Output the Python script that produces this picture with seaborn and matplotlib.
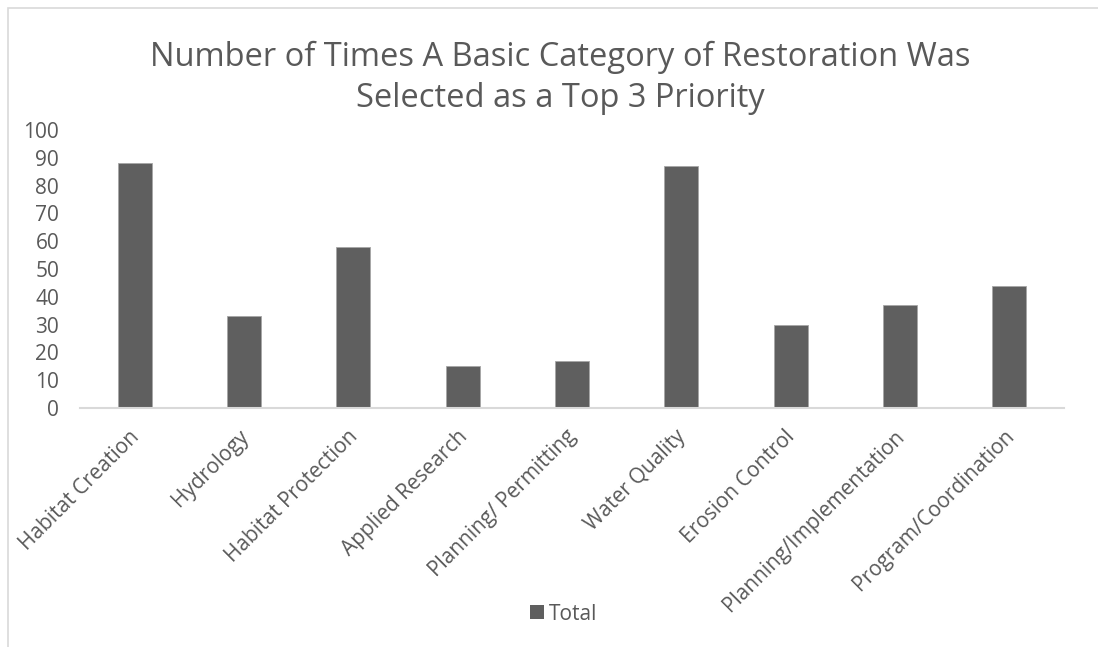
import matplotlib
matplotlib.use("Agg")
import matplotlib.pyplot as plt
import matplotlib.transforms as mtransforms
import seaborn as sns
import pandas as pd
from matplotlib.patches import Rectangle, Patch

categories = [
    "Habitat Creation",
    "Hydrology",
    "Habitat Protection",
    "Applied Research",
    "Planning/ Permitting",
    "Water Quality",
    "Erosion Control",
    "Planning/Implementation",
    "Program/Coordination",
]
totals = [88, 33, 58, 15, 17, 87, 30, 37, 44]
y_ticks = [0, 10, 20, 30, 40, 50, 60, 70, 80, 90, 100]

title = "Number of Times A Basic Category of Restoration Was\nSelected as a Top 3 Priority"
series_name = "Total"

sns.set_theme(style="white")
plt.rcParams["font.family"] = ["Open Sans", "DejaVu Sans"]

text_gray = "#595959"
bar_gray = "#5f5f5f"
small = 15

df = pd.DataFrame({"category": categories, "total": totals})

W, H = 1098, 647
fig = plt.figure(figsize=(W / 100, H / 100), dpi=100)
fig.patch.set_facecolor("white")

# chart area border
fig.add_artist(Rectangle((8 / W, -0.01), 1.02, 1 - 8 / H + 0.01,
                         transform=fig.transFigure, fill=False,
                         edgecolor="#d9d9d9", linewidth=1.2))

left, right = 80 / W, 1064 / W
bottom, top = 1 - 408 / H, 1 - 130 / H
ax = fig.add_axes([left, bottom, right - left, top - bottom])

sns.barplot(data=df, x="category", y="total", color=bar_gray, width=0.31,
            edgecolor="#a6a6a6", linewidth=0.6, saturation=1, ax=ax)

ax.set_xlim(-0.5, len(categories) - 0.5)
ax.set_ylim(0, 100)
ax.set_yticks(y_ticks)
ax.set_yticklabels([str(v) for v in y_ticks], fontsize=small, color=text_gray)
ax.tick_params(axis="y", length=0, pad=15)
ax.tick_params(axis="x", length=0, pad=13)
ax.set_xticks(range(len(categories)))
ax.set_xticklabels(categories, rotation=45, ha="right", va="top",
                   rotation_mode="anchor", fontsize=small, color=text_gray)
shift = mtransforms.ScaledTranslation(-6 / 100, 0, fig.dpi_scale_trans)
for lbl in ax.get_xticklabels():
    lbl.set_transform(lbl.get_transform() + shift)
ax.set_xlabel("")
ax.set_ylabel("")
for side in ["top", "right", "left"]:
    ax.spines[side].set_visible(False)
ax.spines["bottom"].set_color("#d9d9d9")
ax.spines["bottom"].set_linewidth(1.5)
ax.grid(False)

fig.text(560 / W, 1 - 78 / H, title, ha="center", va="center",
         fontsize=23.5, color=text_gray, linespacing=1.3)

handles = [Patch(facecolor=bar_gray, edgecolor="none", label=series_name)]
fig.legend(handles=handles, loc="center", bbox_to_anchor=(564 / W, 1 - 614 / H),
           frameon=False, fontsize=small, labelcolor=text_gray,
           handlelength=0.65, handleheight=0.65, handletextpad=0.25)

fig.savefig("out.png", dpi=100, facecolor="white")
